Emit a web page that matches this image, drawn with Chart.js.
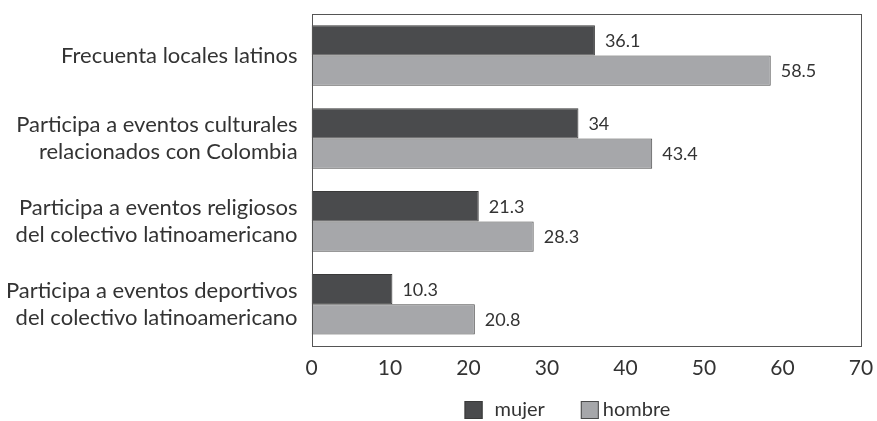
<!DOCTYPE html>
<html>
<head>
<meta charset="utf-8">
<script src="https://cdn.jsdelivr.net/npm/chart.js@4.4.0/dist/chart.umd.min.js"></script>
<style>
  html, body { margin: 0; padding: 0; background: #fff; }
  #wrap { width: 877px; height: 421px; }
</style>
</head>
<body>
<div id="wrap"><canvas id="chart"></canvas></div>
<script>
// categories, top to bottom
const categories = [
  ['Frecuenta locales latinos'],
  ['Participa a eventos culturales', 'relacionados con Colombia'],
  ['Participa a eventos religiosos', 'del colectivo latinoamericano'],
  ['Participa a eventos deportivos', 'del colectivo latinoamericano']
];
const seriesNames = ['mujer', 'hombre'];
const mujer = [36.1, 34, 21.3, 10.3];
const hombre = [58.5, 43.4, 28.3, 20.8];
const xTicks = [0, 10, 20, 30, 40, 50, 60, 70];

const FONT = 'Lato, "Open Sans", sans-serif';
const TEXT = '#333333';
const COLORS = ['#4a4b4d', '#a6a7aa'];
const BORDERS = ['#3a3a3a', '#4a4a4a'];

// box around the plot area
const frame = {
  id: 'frame',
  afterDraw(chart) {
    const a = chart.chartArea, ctx = chart.ctx;
    ctx.save();
    ctx.strokeStyle = '#555555';
    ctx.lineWidth = 1;
    ctx.strokeRect(Math.round(a.left) + 0.5, Math.round(a.top) + 0.5,
      Math.round(a.right - a.left), Math.round(a.bottom - a.top));
    ctx.restore();
  }
};

// value labels at the end of each bar
const valueLabels = {
  id: 'valueLabels',
  afterDatasetsDraw(chart) {
    const ctx = chart.ctx;
    ctx.save();
    ctx.font = '18px ' + FONT;
    ctx.fillStyle = TEXT;
    ctx.textBaseline = 'middle';
    chart.data.datasets.forEach((ds, i) => {
      chart.getDatasetMeta(i).data.forEach((bar, j) => {
        ctx.fillText(String(ds.data[j]), bar.x + 10, bar.y + 1);
      });
    });
    ctx.restore();
  }
};

// legend under the axis, offset to the right like the original
const bottomLegend = {
  id: 'bottomLegend',
  afterDraw(chart) {
    const a = chart.chartArea, ctx = chart.ctx;
    const y = 410;
    let x = a.left + 153;
    ctx.save();
    ctx.font = '20px ' + FONT;
    ctx.textBaseline = 'middle';
    seriesNames.forEach((name, i) => {
      ctx.fillStyle = COLORS[i];
      ctx.fillRect(x, y - 9, 18, 18);
      ctx.strokeStyle = BORDERS[i];
      ctx.lineWidth = 1;
      ctx.strokeRect(x + 0.5, y - 8.5, 17, 17);
      ctx.fillStyle = TEXT;
      const tx = x + 18 + (i === 0 ? 12 : 4);
      ctx.fillText(name, tx, y);
      x = tx + ctx.measureText(name).width + 36;
    });
    ctx.restore();
  }
};

new Chart(document.getElementById('chart'), {
  type: 'bar',
  data: {
    labels: categories,
    datasets: [
      { label: seriesNames[0], data: mujer, backgroundColor: COLORS[0], borderColor: BORDERS[0], borderWidth: 1,
        categoryPercentage: 0.73, barPercentage: 1.0 },
      { label: seriesNames[1], data: hombre, backgroundColor: COLORS[1], borderColor: BORDERS[1], borderWidth: 1,
        categoryPercentage: 0.73, barPercentage: 1.0 }
    ]
  },
  options: {
    indexAxis: 'y',
    responsive: true,
    maintainAspectRatio: false,
    animation: false,
    layout: { padding: { top: 14, right: 16, left: -8, bottom: 30 } },
    scales: {
      x: {
        min: 0, max: 70,
        afterBuildTicks: (s) => { s.ticks = xTicks.map(v => ({ value: v })); },
        afterFit: (s) => { s.paddingLeft = 0; s.paddingRight = 0; },
        grid: { display: false, drawTicks: false },
        border: { display: false },
        ticks: { color: TEXT, font: { family: FONT, size: 21 }, padding: 10 }
      },
      y: {
        afterFit: (s) => { s.paddingTop = 0; s.paddingBottom = 0; },
        grid: { display: false, drawTicks: false },
        border: { display: false },
        ticks: { color: TEXT, font: { family: FONT, size: 22, lineHeight: 1.24 }, padding: 14 }
      }
    },
    plugins: {
      legend: { display: false },
      tooltip: { enabled: false }
    }
  },
  plugins: [frame, valueLabels, bottomLegend]
});
</script>
</body>
</html>
